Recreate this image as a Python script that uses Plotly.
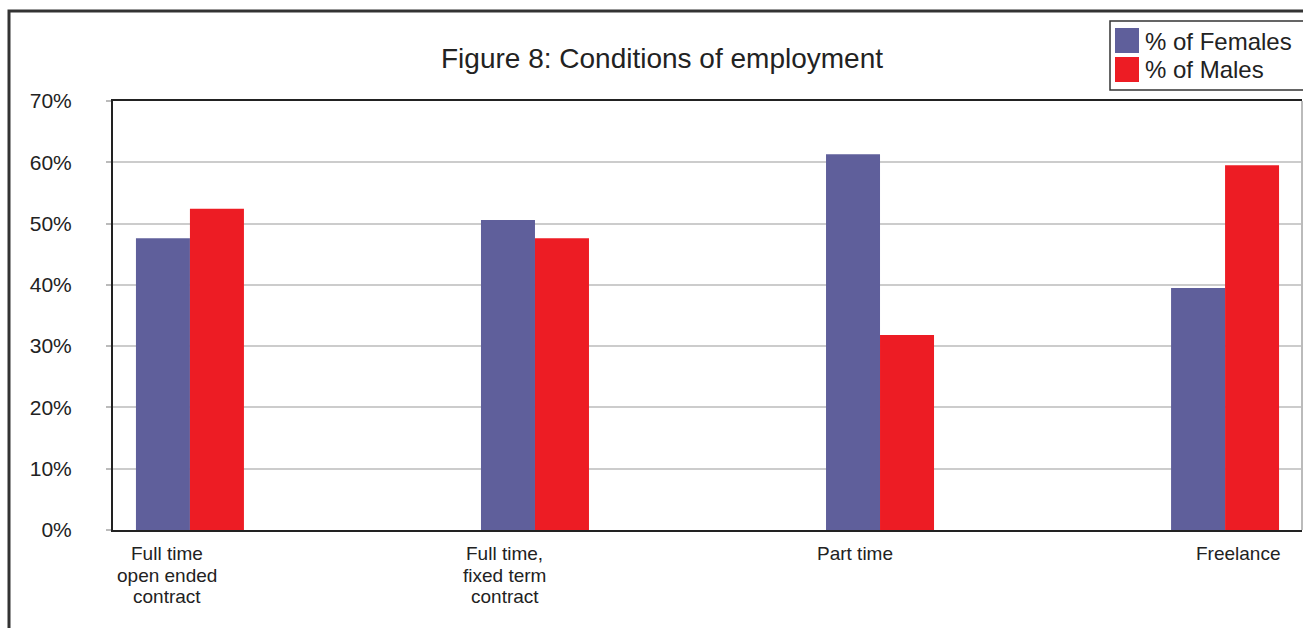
import plotly.graph_objects as go

categories = [["Full time", "open ended", "contract"], ["Full time,", "fixed term", "contract"], ["Part time"], ["Freelance"]]
females = [47.6, 50.6, 61.3, 39.5]
males = [52.4, 47.6, 31.8, 59.5]
series_names = ["% of Females", "% of Males"]
series_colors = ["#5F5F9B", "#ED1C24"]
label_shift = [-23, -30, -25, 13]
yticks = [0, 10, 20, 30, 40, 50, 60, 70]
yticklabels = [f"{v}%" for v in yticks]

W, H = 1303, 628
L, R, T, B = 113, 1, 101, 98
pw, ph = W - L - R, H - T - B

def px_x(p):
    return (p - L) / pw

def px_y(p):
    return (H - B - p) / ph

FONT = "Liberation Sans, Arial, sans-serif"

fig = go.Figure()
xs = list(range(len(categories)))
for vals, name, col in zip([females, males], series_names, series_colors):
    fig.add_trace(go.Bar(x=xs, y=vals, name=name, showlegend=False,
                         marker=dict(color=col, line=dict(width=0))))

annotations = []
for i, (lines, s) in enumerate(zip(categories, label_shift)):
    for j, line in enumerate(lines):
        annotations.append(dict(x=i, y=0, xref="x", yref="y", text=line, showarrow=False,
                                xshift=s, yshift=-11 - 21.5 * j, yanchor="top", xanchor="center",
                                font=dict(family=FONT, size=19, color="#222")))

# manual legend (large square swatches like the reference)
shapes = [
    dict(type="rect", xref="paper", yref="paper",
         x0=px_x(1110), x1=px_x(1330), y0=px_y(90), y1=px_y(21),
         line=dict(color="#333", width=1.5), fillcolor="white", layer="above"),
]
for k, (name, col) in enumerate(zip(series_names, series_colors)):
    top = 28 + 29 * k
    shapes.append(dict(type="rect", xref="paper", yref="paper",
                       x0=px_x(1115), x1=px_x(1139), y0=px_y(top + 25), y1=px_y(top),
                       line=dict(width=0), fillcolor=col, layer="above"))
    annotations.append(dict(x=px_x(1143), y=px_y(top + 13), xref="paper", yref="paper",
                            text=name, showarrow=False, xanchor="left", yanchor="middle",
                            font=dict(family=FONT, size=24, color="#222")))

shapes += [
    # outer frame
    dict(type="path", xref="paper", yref="paper",
         path=f"M {px_x(9)} {px_y(640)} L {px_x(9)} {px_y(11)} L {px_x(1310)} {px_y(11)}",
         line=dict(color="#333", width=3), layer="above"),
    # right border of plot area
    dict(type="line", xref="paper", yref="paper", x0=1, x1=1, y0=0, y1=1,
         line=dict(color="#bbb", width=2)),
]

fig.update_layout(
    width=W, height=H,
    margin=dict(l=L, r=R, t=T, b=B, autoexpand=False),
    paper_bgcolor="white", plot_bgcolor="white",
    barmode="group", bargap=0.687, bargroupgap=0,
    title=dict(text="Figure 8: Conditions of employment", x=662 / W, xref="container",
               xanchor="center", y=1 - 58 / H, yref="container", yanchor="middle",
               font=dict(family=FONT, size=28, color="#222")),
    font=dict(family=FONT, color="#222"),
    xaxis=dict(range=[-0.223, 3.223], showticklabels=False, ticks="", showgrid=False,
               showline=True, linecolor="#222", linewidth=2, mirror=True, zeroline=False),
    yaxis=dict(range=[0, 70], tickvals=yticks, ticktext=yticklabels,
               showgrid=True, gridcolor="#cccccc", gridwidth=2,
               ticks="outside", ticklen=5, tickcolor="#bbb", tickwidth=2,
               ticklabelstandoff=30,
               tickfont=dict(family=FONT, size=21, color="#222"),
               showline=True, linecolor="#222", linewidth=2, zeroline=False),
    showlegend=False,
    annotations=annotations,
    shapes=shapes,
)

fig.write_html("out.html")
